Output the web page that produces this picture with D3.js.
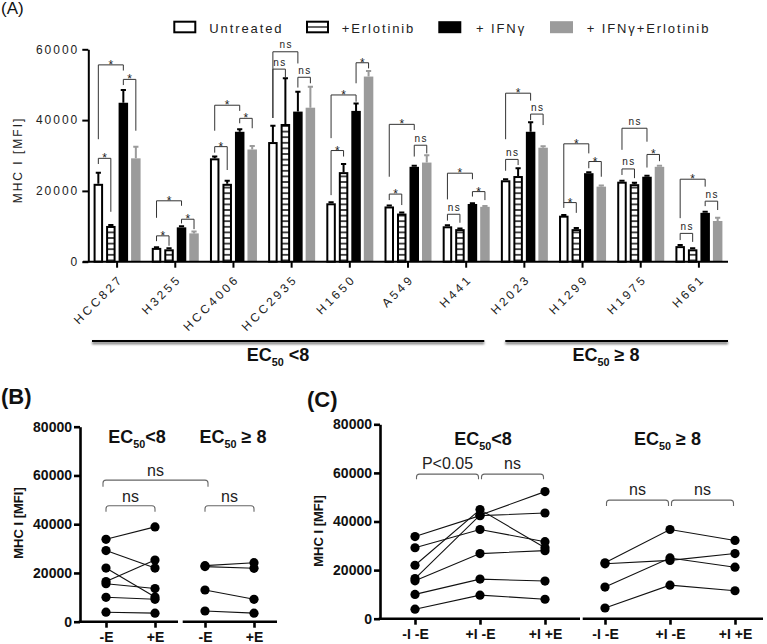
<!DOCTYPE html>
<html><head><meta charset="utf-8">
<script src="https://cdn.jsdelivr.net/npm/d3@7"></script>
<style>body{margin:0;background:#fff}</style>
</head><body>
<svg id="chart" width="767" height="644"></svg>
<script>
// ---------------- DATA ----------------
const cells = ["HCC827","H3255","HCC4006","HCC2935","H1650","A549","H441","H2023","H1299","H1975","H661"];
const groupLow = ["HCC827","H3255","HCC4006","HCC2935","H1650","A549","H441"];
const groupHigh = ["H2023","H1299","H1975","H661"];
const seriesNames = ["Untreated","+Erlotinib","+ IFNγ","+ IFNγ+Erlotinib"];
const untreated = [22000, 3900, 29200, 33800, 16500, 15600, 10000, 23000, 13000, 22600, 4400];
const erlotinib = [10100, 3500, 22000, 38900, 25300, 13600, 9200, 24200, 9200, 21900, 3500];
const ifn       = [44900, 9700, 36700, 42400, 42600, 26800, 16300, 36700, 25000, 24000, 13800];
const ifnErl    = [29200, 8000, 31700, 43500, 52300, 28000, 15500, 32200, 21200, 26800, 11500];
const untreatedErr = [3100, 200, 500, 4600, 300, 300, 300, 300, 200, 300, 300];
const erlotinibErr = [300, 300, 900, 12900, 2300, 300, 200, 2200, 300, 400, 300];
const ifnErr       = [3600, 300, 700, 5600, 2100, 300, 200, 2700, 300, 300, 300];
const ifnErlErr    = [3300, 500, 1000, 5900, 1600, 2100, 200, 400, 300, 300, 900];
const yTicksA = [0, 20000, 40000, 60000];
const yTicksBC = [0, 20000, 40000, 60000, 80000];
// significance brackets panel A: [cell index, bar a, bar b, level, leg a end, leg b end, label]
const bracketsA = [
 [0,0,2,55600,34600,54000,"*"],[0,0,1,29200,27600,14100,"*"],[0,2,3,51500,49900,37000,"*"],
 [1,0,2,17200,12400,15800,"*"],[1,0,1,7300,5800,4500,"*"],[1,2,3,12000,10800,9200,"*"],
 [2,0,2,44200,37000,42600,"*"],[2,0,1,32500,30800,25900,"*"],[2,2,3,40500,39100,37700,"*"],
 [3,0,2,59300,40600,56000,"ns"],[3,0,1,54400,40600,52100,"ns"],[3,2,3,52100,49200,50400,"ns"],
 [4,0,2,47100,34900,45200,"*"],[4,0,1,31400,18800,29700,"*"],[4,2,3,56200,50400,54600,"*"],
 [5,0,2,38800,24000,37200,"*"],[5,0,1,19100,17400,16000,"*"],[5,2,3,32900,29700,30600,"ns"],
 [6,0,2,25000,17600,23300,"*"],[6,0,1,13400,11600,11000,"ns"],[6,2,3,19800,18400,17400,"*"],
 [7,0,2,47600,34600,45500,"*"],[7,0,1,28900,25700,27300,"ns"],[7,2,3,41700,40000,38600,"ns"],
 [8,0,2,33300,16600,30600,"*"],[8,0,1,16700,15200,13800,"*"],[8,2,3,28300,26400,24000,"*"],
 [9,0,2,37700,31600,33900,"ns"],[9,0,1,26200,24500,23600,"ns"],[9,2,3,30300,26600,28400,"*"],
 [10,0,2,23300,12300,21200,"*"],[10,0,1,8000,6100,5600,"ns"],[10,2,3,17100,15700,14600,"ns"]
];
const bLabels = ["-E","+E"];
const cLabels = ["-I -E","+I -E","+I +E"];
const bracketsB = [["L","-E","R","-E",58100,55400,"ns"],["L","-E","L","+E",47600,45100,"ns"],["R","-E","R","+E",47600,45100,"ns"]];
const bracketsC = [["L","-I -E","L","+I -E",59500,57400,"P<0.05"],["L","+I -E","L","+I +E",59500,57400,"ns"],
                   ["R","-I -E","R","+I -E",48800,46400,"ns"],["R","+I -E","R","+I +E",48800,46400,"ns"]];

// ---------------- SETUP ----------------
const FONT = "'Liberation Sans', Arial, Helvetica, sans-serif";
const NARROW = "'Liberation Sans Narrow', 'Arial Narrow', 'Liberation Sans', Arial, sans-serif";
const GRAY = "#9b9b9b";
const svg = d3.select("#chart").style("font-family", FONT);
const defs = svg.append("defs");
const pat = defs.append("pattern").attr("id","stripes").attr("patternUnits","userSpaceOnUse")
  .attr("width",10).attr("height",5.6);
pat.append("rect").attr("width",10).attr("height",5.6).attr("fill","#fff");
pat.append("line").attr("x1",0).attr("x2",10).attr("y1",2.8).attr("y2",2.8).attr("stroke","#000").attr("stroke-width",1.4);
const blur = defs.append("filter").attr("id","blur").attr("filterUnits","userSpaceOnUse")
  .attr("x",0).attr("y",0).attr("width",767).attr("height",644);
blur.append("feGaussianBlur").attr("stdDeviation",1.3);

function ecText(g, x, y, size, suffix, family, anchor) {
  const t = g.append("text").attr("x",x).attr("y",y).attr("text-anchor",anchor||"middle")
    .attr("font-size",size).attr("font-weight","bold").attr("font-family",family).attr("fill","#111");
  t.append("tspan").text("EC");
  t.append("tspan").attr("font-size",size*0.6).attr("dy",size*0.28).text("50");
  t.append("tspan").attr("dy",-size*0.28).text(suffix);
  return t;
}

// ---------------- PANEL A ----------------
const gA = svg.append("g");
gA.append("text").attr("x",1).attr("y",14).attr("font-size",17).attr("fill","#111").text("(A)");

const yA = d3.scaleLinear().domain([0,60000]).range([261.7,49.3]);
const x0 = d3.scaleBand().domain(cells).range([88,728]);
const x1 = d3.scaleBand().domain(d3.range(4))
  .range([x0.bandwidth()/2-25, x0.bandwidth()/2+25]).paddingInner(0.24).paddingOuter(0.12);
const bw = x1.bandwidth();
const seriesVals = [untreated, erlotinib, ifn, ifnErl];
const seriesErr = [untreatedErr, erlotinibErr, ifnErr, ifnErlErr];
const fills = ["#fff","url(#stripes)","#000",GRAY];

const barData = [];
cells.forEach((c,i) => seriesVals.forEach((arr,s) => barData.push({c, i, s, v: arr[i], e: seriesErr[s][i]})));
const bx = d => x0(d.c) + x1(d.s);
const bc = d => bx(d) + bw/2;

gA.selectAll(".err").data(barData).join("path").attr("class","err")
  .attr("d", d => `M${bc(d)},${yA(d.v)}V${yA(d.v+d.e)}M${bc(d)-2.6},${yA(d.v+d.e)}H${bc(d)+2.6}`)
  .attr("stroke", d => d.s===3 ? GRAY : "#000").attr("stroke-width",2).attr("fill","none");
gA.selectAll(".bar").data(barData).join("rect").attr("class","bar")
  .attr("x", d => d.s<2 ? bx(d)+1 : bx(d))
  .attr("width", d => d.s<2 ? bw-2 : bw)
  .attr("y", d => d.s<2 ? yA(d.v)+1 : yA(d.v))
  .attr("height", d => d.s<2 ? yA(0)-yA(d.v)-1 : yA(0)-yA(d.v))
  .attr("fill", d => fills[d.s])
  .attr("stroke", d => d.s<2 ? "#000" : "none").attr("stroke-width",2);

const brX = (ci, s) => x0(cells[ci]) + x1(s) + bw/2;
gA.selectAll(".brk").data(bracketsA).join("path").attr("class","brk")
  .attr("d", d => `M${brX(d[0],d[1])},${yA(d[4])}V${yA(d[3])}H${brX(d[0],d[2])}V${yA(d[5])}`)
  .attr("fill","none").attr("stroke","#333").attr("stroke-width",1);
gA.selectAll(".brkt").data(bracketsA).join("text").attr("class","brkt")
  .attr("x", d => (brX(d[0],d[1])+brX(d[0],d[2]))/2 + (d[6]==="ns"?0.8:0))
  .attr("y", d => yA(d[3]) + (d[6]==="*" ? 4 : -3.5))
  .attr("text-anchor","middle").attr("fill","#222")
  .attr("font-size", d => d[6]==="*" ? 12 : 10)
  .attr("letter-spacing", d => d[6]==="*" ? 0 : 1.5)
  .text(d => d[6]);

const axA = gA.append("g").attr("transform","translate(88.3,0)")
  .call(d3.axisLeft(yA).tickValues(yTicksA).tickFormat(d3.format("d")).tickSize(6).tickSizeOuter(0).tickPadding(3));
axA.select(".domain").attr("stroke-width",2);
axA.selectAll(".tick line").attr("stroke-width",2);
axA.selectAll(".tick text").attr("font-size",12).attr("letter-spacing",2).attr("fill","#222").attr("font-family",FONT);
gA.append("text").attr("transform","translate(21.5,160) rotate(-90)").attr("text-anchor","middle")
  .attr("font-size",12).attr("letter-spacing",2).attr("fill","#222").text("MHC I [MFI]");

gA.append("line").attr("x1",83).attr("x2",728).attr("y1",yA(0)).attr("y2",yA(0)).attr("stroke","#000").attr("stroke-width",2);
const axX = gA.append("g").attr("transform",`translate(0,${yA(0)})`)
  .call(d3.axisBottom(x0).tickSize(6).tickSizeOuter(0));
axX.select(".domain").remove();
axX.selectAll(".tick line").attr("stroke-width",2);
axX.selectAll(".tick text").attr("x",0).attr("y",0).attr("dy",0)
  .attr("text-anchor","end").attr("transform","translate(7,18) rotate(-45)")
  .attr("font-size",12).attr("letter-spacing",3).attr("fill","#222").attr("font-family",FONT);

// EC50 group lines with soft shadow
const lowEnd = x0(groupLow[groupLow.length-1]) + x0.bandwidth();
const highStart = x0(groupHigh[0]);
const segs = [[x0(groupLow[0])+4, lowEnd-11], [highStart+10, x0(groupHigh[groupHigh.length-1])+x0.bandwidth()]];
segs.forEach(s => {
  gA.append("line").attr("x1",s[0]).attr("x2",s[1]).attr("y1",343).attr("y2",343)
    .attr("stroke","#777").attr("stroke-width",2.5).attr("filter","url(#blur)");
  gA.append("line").attr("x1",s[0]).attr("x2",s[1]).attr("y1",341).attr("y2",341)
    .attr("stroke","#000").attr("stroke-width",2);
});
ecText(gA, 278, 361, 18, " <8", NARROW);
ecText(gA, 606, 361, 18, " \u2265 8", NARROW);

const legX = [173.3, 306, 438.3, 550];
const legTX = [209.3, 341.7, 476, 586.7];
seriesNames.forEach((n,s) => {
  if (s<2) {
    gA.append("rect").attr("x",legX[s]+1).attr("y",21.7).attr("width",21).attr("height",10.6)
      .attr("fill","#fff").attr("stroke","#000").attr("stroke-width",2);
    if (s===1) gA.append("line").attr("x1",legX[s]+1).attr("x2",legX[s]+22).attr("y1",27).attr("y2",27).attr("stroke","#000").attr("stroke-width",1.2);
  } else {
    gA.append("rect").attr("x",legX[s]).attr("y",21.2).attr("width",23).attr("height",12)
      .attr("fill", s===2 ? "#000" : GRAY);
  }
  gA.append("text").attr("x",legTX[s]).attr("y",32.5).attr("font-size",13).attr("letter-spacing",1.9)
    .attr("fill","#222").text(n);
});

// ---------------- PANEL B ----------------
const gB = svg.append("g");
gB.append("text").attr("x",1).attr("y",404).attr("font-size",22).attr("font-weight","bold").attr("fill","#111").text("(B)");
const yB = d3.scaleLinear().domain([0,80000]).range([621.7,426.7]);
const xB = {L: d3.scalePoint().domain(bLabels).range([106,155]), R: d3.scalePoint().domain(bLabels).range([205,254])};
const axBY = gB.append("g").attr("transform","translate(80,0)")
  .call(d3.axisLeft(yB).tickValues(yTicksBC).tickFormat(d3.format("d")).tickSize(6).tickSizeOuter(0).tickPadding(2));
axBY.select(".domain").attr("stroke-width",2.6);
axBY.selectAll(".tick line").attr("stroke-width",2.6);
axBY.selectAll(".tick text").attr("font-size",14).attr("font-weight","bold").attr("fill","#111").attr("font-family",FONT);
gB.append("text").attr("transform","translate(22.5,523) rotate(-90)").attr("text-anchor","middle")
  .attr("font-size",13).attr("font-weight","bold").attr("fill","#111").text("MHC I [MFI]");
[[78.7,178],[182.7,277]].forEach(s => gB.append("line").attr("x1",s[0]).attr("x2",s[1]).attr("y1",yB(0)).attr("y2",yB(0)).attr("stroke","#000").attr("stroke-width",2.6));
["L","R"].forEach(k => {
  const ax = gB.append("g").attr("transform",`translate(0,${yB(0)})`).call(d3.axisBottom(xB[k]).tickSize(6).tickSizeOuter(0).tickPadding(4));
  ax.select(".domain").remove();
  ax.selectAll(".tick line").attr("stroke-width",2.6);
  ax.selectAll(".tick text").attr("font-size",14).attr("font-weight","bold").attr("fill","#111").attr("font-family",FONT);
});
ecText(gB, 137, 443, 18, "<8", FONT);
ecText(gB, 233, 443, 18, " \u2265 8", FONT);

function lineSet(g, idxs, getPts) {
  idxs.forEach(i => {
    g.append("path").attr("d", d3.line()(getPts(i))).attr("fill","none").attr("stroke","#111").attr("stroke-width",1.1);
  });
  idxs.forEach(i => {
    getPts(i).forEach(p => g.append("circle").attr("cx",p[0]).attr("cy",p[1]).attr("r",4.6).attr("fill","#000"));
  });
}
const lowIdx = groupLow.map(c => cells.indexOf(c));
const highIdx = groupHigh.map(c => cells.indexOf(c));
lineSet(gB, lowIdx, i => [[xB.L("-E"), yB(untreated[i])],[xB.L("+E"), yB(erlotinib[i])]]);
lineSet(gB, highIdx, i => [[xB.R("-E"), yB(untreated[i])],[xB.R("+E"), yB(erlotinib[i])]]);

function bracketPath(xa, xb, yl, yg) {
  const r = 3;
  return `M${xa},${yg}V${yl+r}Q${xa},${yl} ${xa+r},${yl}H${xb-r}Q${xb},${yl} ${xb},${yl+r}V${yg}`;
}
bracketsB.forEach(d => {
  let xa = xB[d[0]](d[1]), xb = xB[d[2]](d[3]);
  if (d[0] !== d[2]) { xa -= 3; xb += 3; }
  gB.append("path").attr("d", bracketPath(xa, xb, yB(d[4]), yB(d[5]))).attr("fill","none").attr("stroke","#666").attr("stroke-width",1.1);
  gB.append("text").attr("x",(xa+xb)/2).attr("y",yB(d[4])-4).attr("text-anchor","middle").attr("font-size",16).attr("fill","#222").text(d[6]);
});

// ---------------- PANEL C ----------------
const gC = svg.append("g");
gC.append("text").attr("x",307).attr("y",407).attr("font-size",22).attr("font-weight","bold").attr("fill","#111").text("(C)");
const yC = d3.scaleLinear().domain([0,80000]).range([618.7,424.3]);
const xC = {L: d3.scalePoint().domain(cLabels).range([415,545]), R: d3.scalePoint().domain(cLabels).range([605,735])};
const axCY = gC.append("g").attr("transform","translate(380,0)")
  .call(d3.axisLeft(yC).tickValues(yTicksBC).tickFormat(d3.format("d")).tickSize(6).tickSizeOuter(0).tickPadding(2));
axCY.select(".domain").attr("stroke-width",2.6);
axCY.selectAll(".tick line").attr("stroke-width",2.6);
axCY.selectAll(".tick text").attr("font-size",14).attr("font-weight","bold").attr("fill","#111").attr("font-family",FONT);
gC.append("text").attr("transform","translate(322.5,531) rotate(-90)").attr("text-anchor","middle")
  .attr("font-size",13).attr("font-weight","bold").attr("fill","#111").text("MHC I [MFI]");
[[378.7,580],[582.7,763]].forEach(s => gC.append("line").attr("x1",s[0]).attr("x2",s[1]).attr("y1",yC(0)).attr("y2",yC(0)).attr("stroke","#000").attr("stroke-width",2.6));
["L","R"].forEach(k => {
  const ax = gC.append("g").attr("transform",`translate(0,${yC(0)})`).call(d3.axisBottom(xC[k]).tickSize(6).tickSizeOuter(0).tickPadding(4));
  ax.select(".domain").remove();
  ax.selectAll(".tick line").attr("stroke-width",2.6);
  ax.selectAll(".tick text").attr("font-size",14).attr("font-weight","bold").attr("fill","#111").attr("font-family",FONT);
});
ecText(gC, 483, 445, 18, "<8", FONT);
ecText(gC, 667.5, 445, 18, " \u2265 8", FONT);
lineSet(gC, lowIdx, i => [[xC.L("-I -E"), yC(untreated[i])],[xC.L("+I -E"), yC(ifn[i])],[xC.L("+I +E"), yC(ifnErl[i])]]);
lineSet(gC, highIdx, i => [[xC.R("-I -E"), yC(untreated[i])],[xC.R("+I -E"), yC(ifn[i])],[xC.R("+I +E"), yC(ifnErl[i])]]);
bracketsC.forEach(d => {
  const xa = xC[d[0]](d[1]) + 1.5, xb = xC[d[2]](d[3]) - 1.5;
  gC.append("path").attr("d", bracketPath(xa, xb, yC(d[4]), yC(d[5]))).attr("fill","none").attr("stroke","#666").attr("stroke-width",1.1);
  gC.append("text").attr("x",(xa+xb)/2).attr("y",yC(d[4])-5).attr("text-anchor","middle").attr("font-size",16).attr("fill","#222").text(d[6]);
});
</script>
</body></html>
